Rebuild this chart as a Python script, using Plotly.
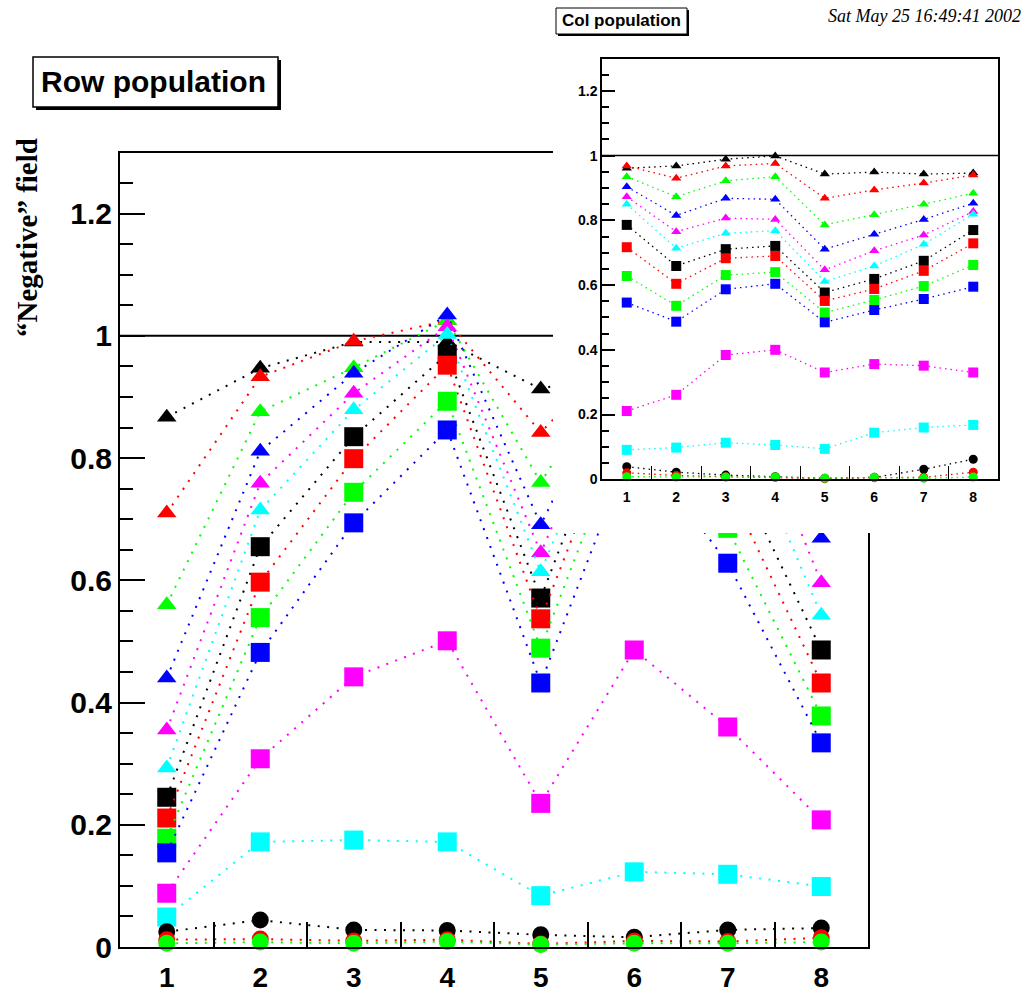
import plotly.graph_objects as go

W, H = 1026, 994

# ---- data -------------------------------------------------------------
cols = [1, 2, 3, 4, 5, 6, 7, 8]
col_labels = ["1", "2", "3", "4", "5", "6", "7", "8"]
y_tick_vals = [0, 0.2, 0.4, 0.6, 0.8, 1.0, 1.2]
y_tick_text = ["0", "0.2", "0.4", "0.6", "0.8", "1", "1.2"]

# Row population (main panel)
row_tri_black   = [0.867, 0.947, 0.990, 0.990, 0.913, 0.950, 0.990, 0.900]
row_tri_red     = [0.710, 0.933, 0.991, 1.025, 0.842, 1.000, 1.000, 0.850]
row_tri_green   = [0.560, 0.876, 0.948, 1.025, 0.760, 1.000, 1.000, 0.780]
row_tri_blue    = [0.440, 0.811, 0.939, 1.034, 0.691, 1.000, 0.950, 0.669]
row_tri_magenta = [0.355, 0.759, 0.906, 1.015, 0.645, 1.000, 0.977, 0.596]
row_tri_cyan    = [0.293, 0.715, 0.879, 1.002, 0.614, 0.980, 0.905, 0.543]
row_sq_black    = [0.245, 0.655, 0.835, 0.970, 0.571, 0.970, 0.808, 0.486]
row_sq_red      = [0.211, 0.597, 0.799, 0.952, 0.537, 0.930, 0.755, 0.432]
row_sq_green    = [0.178, 0.539, 0.744, 0.893, 0.489, 0.890, 0.685, 0.378]
row_sq_blue     = [0.154, 0.482, 0.694, 0.846, 0.432, 0.830, 0.628, 0.334]
row_sq_magenta  = [0.088, 0.308, 0.442, 0.501, 0.235, 0.486, 0.360, 0.208]
row_sq_cyan     = [0.049, 0.172, 0.175, 0.172, 0.084, 0.123, 0.119, 0.099]
row_dot_black   = [0.025, 0.044, 0.028, 0.027, 0.020, 0.016, 0.028, 0.031]
row_dot_red     = [0.012, 0.013, 0.010, 0.012, 0.005, 0.010, 0.009, 0.015]
row_dot_green   = [0.006, 0.008, 0.006, 0.009, 0.004, 0.006, 0.006, 0.008]

# Col population (inset panel)
col_tri_black   = [0.961, 0.968, 0.989, 0.999, 0.943, 0.949, 0.943, 0.946]
col_tri_red     = [0.968, 0.930, 0.968, 0.976, 0.868, 0.894, 0.915, 0.940]
col_tri_green   = [0.935, 0.873, 0.922, 0.935, 0.786, 0.817, 0.850, 0.884]
col_tri_blue    = [0.904, 0.815, 0.868, 0.865, 0.711, 0.757, 0.803, 0.853]
col_tri_magenta = [0.873, 0.765, 0.807, 0.803, 0.647, 0.706, 0.755, 0.827]
col_tri_cyan    = [0.850, 0.714, 0.760, 0.768, 0.611, 0.659, 0.726, 0.819]
col_sq_black    = [0.786, 0.659, 0.711, 0.721, 0.577, 0.619, 0.675, 0.770]
col_sq_red      = [0.717, 0.604, 0.683, 0.690, 0.551, 0.588, 0.644, 0.729]
col_sq_green    = [0.628, 0.536, 0.631, 0.640, 0.515, 0.554, 0.597, 0.662]
col_sq_blue     = [0.546, 0.487, 0.587, 0.604, 0.485, 0.523, 0.557, 0.595]
col_sq_magenta  = [0.211, 0.261, 0.384, 0.400, 0.330, 0.356, 0.351, 0.330]
col_sq_cyan     = [0.091, 0.098, 0.113, 0.106, 0.094, 0.144, 0.160, 0.168]
col_dot_black   = [0.039, 0.022, 0.013, 0.008, 0.003, 0.006, 0.031, 0.062]
col_dot_red     = [0.020, 0.012, 0.008, 0.006, 0.002, 0.005, 0.006, 0.022]
col_dot_green   = [0.008, 0.007, 0.007, 0.007, 0.003, 0.006, 0.003, 0.007]

palette = ["#000000", "#ff0000", "#00ff00", "#0000ff", "#ff00ff", "#00ffff"]

row_series = [
    (row_tri_black, 0, "triangle-up"), (row_tri_red, 1, "triangle-up"),
    (row_tri_green, 2, "triangle-up"), (row_tri_blue, 3, "triangle-up"),
    (row_tri_magenta, 4, "triangle-up"), (row_tri_cyan, 5, "triangle-up"),
    (row_sq_black, 0, "square"), (row_sq_red, 1, "square"),
    (row_sq_green, 2, "square"), (row_sq_blue, 3, "square"),
    (row_sq_magenta, 4, "square"), (row_sq_cyan, 5, "square"),
    (row_dot_black, 0, "circle"), (row_dot_red, 1, "circle"),
    (row_dot_green, 2, "circle"),
]
col_series = [
    (col_tri_black, 0, "triangle-up"), (col_tri_red, 1, "triangle-up"),
    (col_tri_green, 2, "triangle-up"), (col_tri_blue, 3, "triangle-up"),
    (col_tri_magenta, 4, "triangle-up"), (col_tri_cyan, 5, "triangle-up"),
    (col_sq_black, 0, "square"), (col_sq_red, 1, "square"),
    (col_sq_green, 2, "square"), (col_sq_blue, 3, "square"),
    (col_sq_magenta, 4, "square"), (col_sq_cyan, 5, "square"),
    (col_dot_black, 0, "circle"), (col_dot_red, 1, "circle"),
    (col_dot_green, 2, "circle"),
]

# ---- helpers ------------------------------------------------------------
def px(x):
    return x / W


def py(y):
    return 1 - y / H


main_sizes = {"triangle-up": 17, "square": 19, "circle": 17}
inset_sizes = {"triangle-up": 9, "square": 10, "circle": 9}

fig = go.Figure()

for vals, ci, sym in row_series:
    fig.add_trace(go.Scatter(
        x=cols, y=vals, mode="lines+markers", xaxis="x", yaxis="y",
        line=dict(color=palette[ci], width=2, dash="2px,7.5px"),
        marker=dict(symbol=sym, size=main_sizes[sym], color=palette[ci],
                    line=dict(width=0)),
        cliponaxis=False, showlegend=False, hoverinfo="skip"))

# blank pad holding the inset (white background over the main panel)
fig.add_trace(go.Scatter(x=[], y=[], xaxis="x2", yaxis="y2",
                         showlegend=False, hoverinfo="skip"))

for vals, ci, sym in col_series:
    fig.add_trace(go.Scatter(
        x=cols, y=vals, mode="lines+markers", xaxis="x3", yaxis="y3",
        line=dict(color=palette[ci], width=1.3, dash="1.5px,4px"),
        marker=dict(symbol=sym, size=inset_sizes[sym], color=palette[ci],
                    line=dict(width=0)),
        cliponaxis=False, showlegend=False, hoverinfo="skip"))

big_font = dict(family="Liberation Sans", size=30, color="black", weight="bold")
big_xfont = dict(family="Liberation Sans", size=28, color="black", weight="bold")
small_font = dict(family="Liberation Sans", size=14, color="black", weight="bold")


def x_axis(domain, anchor, font, tlen, lw, standoff):
    return dict(domain=domain, anchor=anchor, range=[0.5, 8.5],
                automargin=False,
                tickmode="array", tickvals=cols, ticktext=col_labels,
                ticks="", tickfont=font, ticklabelstandoff=standoff,
                showgrid=False, zeroline=False,
                showline=True, linecolor="black", linewidth=lw, mirror=True,
                minor=dict(tickmode="array", tickvals=[c + 0.5 for c in cols[:-1]],
                           ticks="inside", ticklen=tlen, tickwidth=lw * 0.8,
                           tickcolor="black", showgrid=False))


def y_axis(domain, anchor, font, tlen, mlen, lw):
    return dict(domain=domain, anchor=anchor, range=[0, 1.3],
                automargin=False,
                tickmode="array", tickvals=y_tick_vals, ticktext=y_tick_text,
                ticks="inside", ticklen=tlen, tickwidth=lw, tickcolor="black",
                tickfont=font, showgrid=False, zeroline=False,
                showline=True, linecolor="black", linewidth=lw, mirror=True,
                minor=dict(tick0=0, dtick=0.05, ticks="inside", ticklen=mlen,
                           tickwidth=lw, tickcolor="black", showgrid=False))


fig.update_layout(
    template="none",
    width=W, height=H,
    margin=dict(l=0, r=0, t=0, b=0, autoexpand=False),
    paper_bgcolor="white", plot_bgcolor="white",
    xaxis=x_axis([px(120), px(868)], "y", big_xfont, 25, 2, 4),
    yaxis=y_axis([py(947), py(152.5)], "x", big_font, 25, 13, 2),
    xaxis2=dict(domain=[px(553), 1.0], anchor="y2", visible=False,
                automargin=False, showgrid=False, zeroline=False),
    yaxis2=dict(domain=[py(533), 1.0], anchor="x2", visible=False,
                automargin=False, showgrid=False, zeroline=False),
    xaxis3=x_axis([px(602), px(998)], "y3", small_font, 14, 1.5, 4),
    yaxis3=y_axis([py(479.3), py(58.5)], "x3", small_font, 13, 7, 1.5),
    shapes=[
        dict(type="line", xref="x", yref="y", x0=0.5, x1=8.5, y0=1, y1=1,
             line=dict(color="black", width=2), layer="below"),
        dict(type="line", xref="x3", yref="y3", x0=0.5, x1=8.5, y0=1, y1=1,
             line=dict(color="black", width=1.5), layer="below"),
        # title boxes with drop shadow
        dict(type="rect", xref="paper", yref="paper", layer="above",
             x0=px(36), x1=px(281), y0=py(110), y1=py(60),
             fillcolor="black", line=dict(width=0)),
        dict(type="rect", xref="paper", yref="paper", layer="above",
             x0=px(33), x1=px(278), y0=py(107), y1=py(57),
             fillcolor="white", line=dict(color="black", width=1.5)),
        dict(type="rect", xref="paper", yref="paper", layer="above",
             x0=px(558), x1=px(689), y0=py(36), y1=py(10),
             fillcolor="black", line=dict(width=0)),
        dict(type="rect", xref="paper", yref="paper", layer="above",
             x0=px(556), x1=px(687), y0=py(34), y1=py(8),
             fillcolor="white", line=dict(color="black", width=1)),
    ],
    annotations=[
        dict(text="Row population", xref="paper", yref="paper",
             x=px(153), y=py(82), xanchor="center", yanchor="middle",
             showarrow=False,
             font=dict(family="Liberation Sans", size=30, color="black",
                       weight="bold")),
        dict(text="Col population", xref="paper", yref="paper",
             x=px(621.5), y=py(21), xanchor="center", yanchor="middle",
             showarrow=False,
             font=dict(family="Liberation Sans", size=17, color="black",
                       weight="bold")),
        dict(text="Sat May 25 16:49:41 2002", xref="paper", yref="paper",
             x=px(1023), y=py(16), xanchor="right", yanchor="middle",
             showarrow=False,
             font=dict(family="Liberation Serif", size=18, color="black",
                       style="italic")),
        dict(text="\u201cNegative\u201d field", xref="paper", yref="paper",
             x=px(27), y=py(238), xanchor="center", yanchor="middle",
             textangle=-90, showarrow=False,
             font=dict(family="Liberation Serif", size=29, color="black",
                       weight="bold")),
    ],
)

fig.write_html("out.html")
